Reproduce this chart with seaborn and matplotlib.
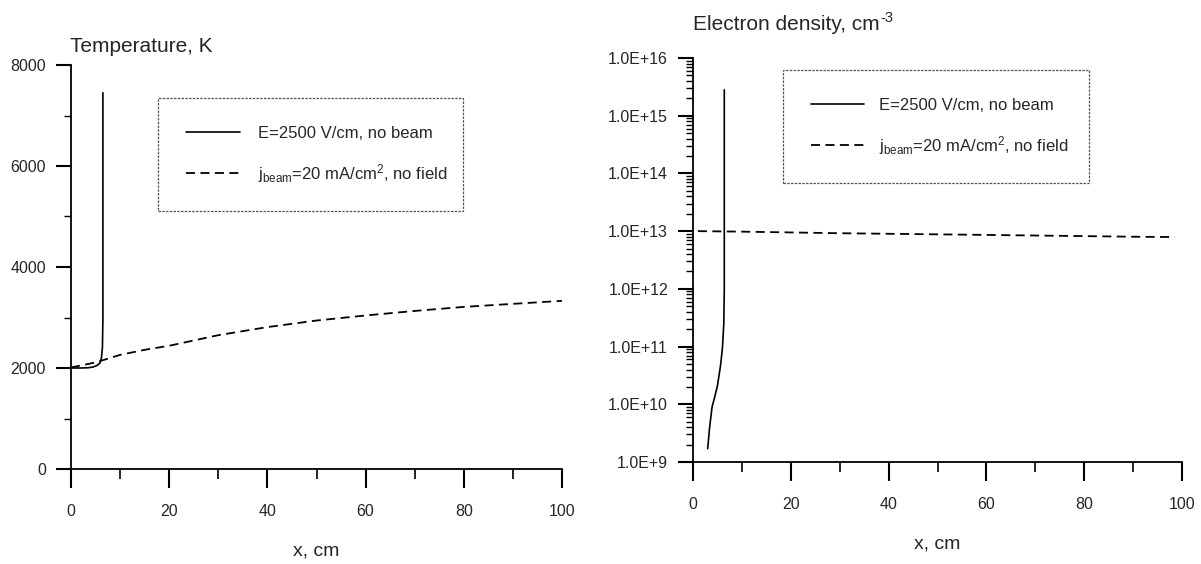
import numpy as np
import pandas as pd
import matplotlib
matplotlib.use("Agg")
import matplotlib.pyplot as plt
import matplotlib.ticker as mticker
from matplotlib.patches import Rectangle
from matplotlib.lines import Line2D
import seaborn as sns

# Temperature, E = 2500 V/cm, no beam (solid)
temp_field_x = [0, 2, 3.5, 4.5, 5.3, 5.9, 6.2, 6.4, 6.5, 6.5]
temp_field_T = [2000, 2000, 2005, 2020, 2050, 2100, 2200, 2400, 3000, 7450]

# Temperature, j_beam = 20 mA/cm2, no field (dashed)
temp_beam_x = [0, 5, 10, 15, 20, 30, 40, 50, 60, 70, 80, 90, 100]
temp_beam_T = [2010, 2110, 2260, 2360, 2440, 2650, 2810, 2940, 3040, 3130, 3210, 3270, 3330]

# Electron density, E-field case (solid)
dens_field_x = [3.0, 3.4, 3.9, 4.5, 5.0, 5.6, 6.0, 6.3, 6.4, 6.4, 6.4]
dens_field_n = [1.7e9, 4e9, 9e9, 1.4e10, 2.1e10, 4.5e10, 9e10, 2.5e11, 1e12, 1e14, 2.8e15]

# Electron density, beam case (dashed)
dens_beam_x = [1, 10, 20, 30, 40, 50, 60, 70, 80, 90, 98.5]
dens_beam_n = [1.0e13, 9.8e12, 9.5e12, 9.2e12, 9.0e12, 8.8e12, 8.6e12, 8.4e12, 8.2e12, 8.0e12, 7.9e12]

legend_labels = ["E=2500 V/cm, no beam",
                 r"$\mathregular{j_{beam}}$=20 mA/cm$\mathregular{^2}$, no field"]

sns.set_theme(style="ticks")
plt.rcParams["font.family"] = ["Liberation Sans", "DejaVu Sans"]
plt.rcParams["mathtext.fontset"] = "custom"
plt.rcParams["mathtext.rm"] = "Liberation Sans"
plt.rcParams["mathtext.it"] = "Liberation Sans:italic"

W, H = 1201, 564
DASH = (0, (5, 3))

fig = plt.figure(figsize=(W / 100, H / 100), dpi=100)
fig.patch.set_facecolor("white")

ax1 = fig.add_axes([71 / W, 1 - 469 / H, (562 - 71) / W, (469 - 65) / H])
ax2 = fig.add_axes([693 / W, 1 - 462 / H, (1182 - 693) / W, (462 - 58) / H])

df_tf = pd.DataFrame({"x": temp_field_x, "y": temp_field_T})
df_tb = pd.DataFrame({"x": temp_beam_x, "y": temp_beam_T})
df_nf = pd.DataFrame({"x": dens_field_x, "y": dens_field_n})
df_nb = pd.DataFrame({"x": dens_beam_x, "y": dens_beam_n})

sns.lineplot(data=df_tf, x="x", y="y", ax=ax1, color="black", lw=1.2,
             sort=False, estimator=None)
sns.lineplot(data=df_tb, x="x", y="y", ax=ax1, color="black", lw=1.3,
             sort=False, estimator=None, linestyle=DASH)

ax2.set_yscale("log")
sns.lineplot(data=df_nf, x="x", y="y", ax=ax2, color="black", lw=1.2,
             sort=False, estimator=None)
sns.lineplot(data=df_nb, x="x", y="y", ax=ax2, color="black", lw=1.3,
             sort=False, estimator=None, linestyle=DASH)

ax1.set_xlim(0, 100)
ax1.set_ylim(0, 8000)
ax1.set_yticks([0, 2000, 4000, 6000, 8000])
ax1.yaxis.set_minor_locator(mticker.MultipleLocator(1000))

ax2.set_xlim(0, 100)
ax2.set_ylim(1e9, 1e16)
ax2.yaxis.set_major_locator(mticker.LogLocator(base=10, numticks=20))
ax2.yaxis.set_minor_locator(mticker.LogLocator(base=10, subs=np.arange(2, 10), numticks=20))
ax2.yaxis.set_major_formatter(
    mticker.FuncFormatter(lambda v, _: f"1.0E+{int(round(np.log10(v)))}"))
ax2.yaxis.set_minor_formatter(mticker.NullFormatter())

for ax in (ax1, ax2):
    ax.xaxis.set_major_locator(mticker.MultipleLocator(20))
    ax.xaxis.set_minor_locator(mticker.MultipleLocator(10))
    for s in ("top", "right"):
        ax.spines[s].set_visible(False)
    for s in ("left", "bottom"):
        ax.spines[s].set_linewidth(1.3)
        ax.spines[s].set_color("black")
    ax.tick_params(axis="x", which="major", length=14, width=1.5, pad=11,
                   labelsize=11.5, color="black")
    ax.tick_params(axis="x", which="minor", length=7, width=1.2, color="black")
    ax.tick_params(axis="y", which="major", length=11, width=1.5, pad=7,
                   labelsize=11.5, color="black")
    ax.tick_params(axis="y", which="minor", length=5, width=1.0, color="black")
    ax.set_xlabel("x, cm", fontsize=14, labelpad=17)
    ax.set_ylabel("")
    ax.set_facecolor("white")

fig.text(70 / W, 1 - 52 / H, "Temperature, K", fontsize=15, va="baseline")
t2 = fig.text(693 / W, 1 - 30 / H, "Electron density, cm", fontsize=15,
              va="baseline")
fig.canvas.draw()
bb = t2.get_window_extent()
fig.text((bb.x1 + 1) / W, 1 - 22 / H, "-3", fontsize=10.5, va="baseline")

handles = [Line2D([], [], color="black", lw=1.2),
           Line2D([], [], color="black", lw=1.3, linestyle=DASH)]

# legend frames (dotted grey boxes) and entries
boxes = [(158, 98, 463, 211), (783, 70, 1089, 183)]
anchors = [(178, 155.5, 3.24, 1.08), (803, 127.5, 3.18, 0.9)]
for ax, (x0, y0, x1, y1), (hx, hy, hl, hp) in zip((ax1, ax2), boxes, anchors):
    fig.add_artist(Rectangle((x0 / W, 1 - y1 / H), (x1 - x0) / W, (y1 - y0) / H,
                             transform=fig.transFigure, fill=False,
                             edgecolor="#555555", lw=0.9, linestyle=(0, (2, 1))))
    ax.legend(handles=handles, labels=legend_labels, loc="center left",
              bbox_to_anchor=(hx / W, 1 - hy / H), bbox_transform=fig.transFigure,
              frameon=False, fontsize=12, borderpad=0, handlelength=hl,
              handletextpad=hp, labelspacing=1.25)

fig.savefig("out.png", dpi=100, facecolor="white")
